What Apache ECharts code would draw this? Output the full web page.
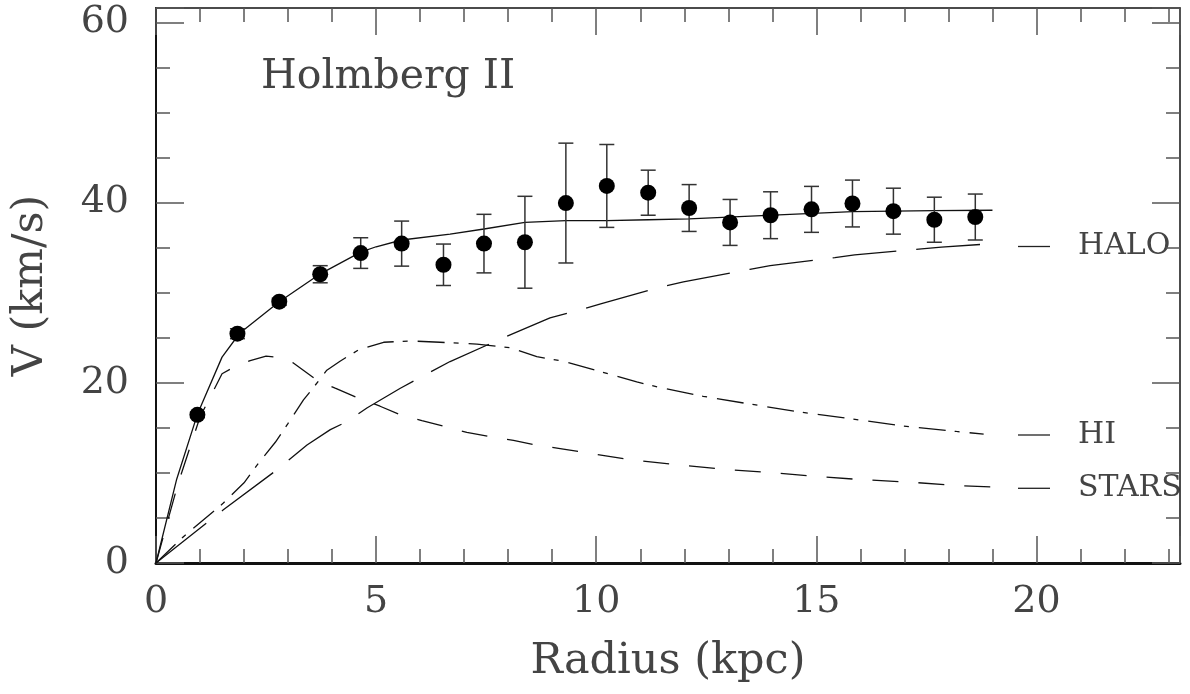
<!DOCTYPE html>
<html><head><meta charset="utf-8">
<script src="https://cdn.jsdelivr.net/npm/echarts@6/dist/echarts.min.js"></script>
<style>html,body{margin:0;padding:0;background:#fff}#c{width:1190px;height:694px}</style>
</head><body><div id="c"></div>
<script>
// ---- axis ranges / ticks ----
const X_MIN = 0, X_MAX = 23.26, X_MAJOR = 5, X_MINOR = 1;
const Y_MIN = 0, Y_MAX = 61.6, Y_MAJOR = 20, Y_MINOR = 5;

// ---- observed rotation curve (kpc, km/s, error) ----
const RADIUS = [0.94, 1.85, 2.80, 3.73, 4.65, 5.58, 6.53, 7.45, 8.38, 9.31, 10.24, 11.18, 12.11, 13.04, 13.96, 14.89, 15.82, 16.75, 17.68, 18.61];
const VEL    = [16.45, 25.45, 29.0, 32.05, 34.4, 35.45, 33.1, 35.45, 35.6, 39.95, 41.85, 41.1, 39.4, 37.8, 38.6, 39.25, 39.9, 39.05, 38.1, 38.4];
const ERR    = [0.3, 0.55, 0.4, 0.95, 1.7, 2.5, 2.3, 3.25, 5.1, 6.65, 4.6, 2.5, 2.6, 2.55, 2.6, 2.55, 2.6, 2.55, 2.5, 2.55];

// ---- model curves ----
const TOTAL_R = [0, 0.47, 0.94, 1.5, 1.9, 2.8, 3.7, 4.65, 5.0, 5.58, 6.68, 7.45, 8.38, 9.31, 10.24, 11.18, 12.11, 13.5, 15.82, 17.68, 19.0];
const TOTAL_V = [0, 9.3, 16.5, 22.85, 25.5, 29.0, 32.0, 34.5, 35.1, 35.85, 36.5, 37.07, 37.8, 38.0, 38.0, 38.1, 38.2, 38.5, 39.0, 39.1, 39.15];

const HALO_R = [0, 1.53, 2.75, 3.43, 3.96, 4.34, 4.79, 5.55, 6.04, 6.68, 7.82, 8.23, 8.95, 9.63, 10.12, 11.52, 11.98, 13.49, 13.95, 15.42, 15.87, 17.39, 17.84, 19.0];
const HALO_V = [0, 5.9, 10.35, 13.1, 14.8, 15.7, 17.2, 19.4, 20.7, 22.36, 24.84, 25.7, 27.2, 28.1, 28.8, 30.7, 31.2, 32.6, 33.0, 33.9, 34.2, 34.86, 35.05, 35.45];

const HI_R = [0, 0.63, 1.53, 2.0, 2.33, 2.71, 3.0, 3.35, 3.58, 3.88, 4.18, 4.6, 5.17, 5.77, 6.45, 7.29, 8.04, 8.65, 9.25, 10.09, 10.92, 11.52, 12.43, 13.42, 14.63, 15.84, 16.97, 18.18, 18.8];
const HI_V = [0, 2.95, 6.65, 8.9, 11.1, 13.4, 15.5, 18.1, 19.5, 21.4, 22.4, 23.65, 24.5, 24.65, 24.5, 24.3, 23.9, 22.9, 22.4, 21.25, 20.1, 19.4, 18.5, 17.7, 16.75, 15.97, 15.2, 14.6, 14.3];

const STARS_R = [0, 0.5, 1.0, 1.5, 1.72, 2.14, 2.5, 2.71, 3.12, 3.65, 4.07, 4.6, 5.09, 5.58, 6.04, 6.6, 7.06, 7.66, 8.12, 8.69, 9.18, 10.77, 11.83, 12.89, 13.95, 15.0, 16.06, 17.12, 18.18, 19.0];
const STARS_V = [0, 8.8, 16.2, 21.0, 21.6, 22.47, 22.95, 22.85, 22.2, 20.3, 19.4, 18.3, 17.4, 16.4, 15.8, 15.1, 14.5, 13.97, 13.6, 13.04, 12.7, 11.46, 10.9, 10.4, 10.05, 9.6, 9.24, 8.98, 8.6, 8.43];

const TITLE = 'Holmberg II';
const X_NAME = 'Radius (kpc)';
const Y_NAME = 'V (km/s)';
const CURVE_LABELS = ['HALO', 'HI', 'STARS'];

const FONT = 'DejaVu Serif';
const INK = '#444';
const TICK = '#555';

const zip = (a, b) => a.map((v, i) => [v, b[i]]);
const isMult = (v, m) => Math.abs(v / m - Math.round(v / m)) < 1e-6;

function xAx(pos, interval, len, withLine, lineW, withLabel) {
  return {
    type: 'value', position: pos, min: X_MIN, max: X_MAX, interval: interval,
    splitLine: { show: false },
    axisLine: { show: withLine, onZero: false, lineStyle: { color: '#111', width: lineW } },
    axisTick: { show: true, inside: true, length: len, lineStyle: { color: TICK, width: 1.5 } },
    axisLabel: withLabel ? {
      show: true, margin: 20, fontFamily: FONT, fontSize: 38, color: INK,
      formatter: v => isMult(v, X_MAJOR) ? String(v) : ''
    } : { show: false }
  };
}
function yAx(pos, interval, len, withLine, lineW, withLabel) {
  return {
    type: 'value', position: pos, min: Y_MIN, max: Y_MAX, interval: interval,
    splitLine: { show: false },
    axisLine: { show: withLine, onZero: false, lineStyle: { color: '#111', width: lineW } },
    axisTick: { show: true, inside: true, length: len, lineStyle: { color: TICK, width: 1.5 } },
    axisLabel: withLabel ? {
      show: true, margin: 27, fontFamily: FONT, fontSize: 38, color: INK,
      formatter: v => isMult(v, Y_MAJOR) ? String(v) : ''
    } : { show: false }
  };
}

const xMain = xAx('bottom', X_MAJOR, 27, true, 3, true);
xMain.name = X_NAME; xMain.nameLocation = 'middle'; xMain.nameGap = 77;
xMain.nameTextStyle = { fontFamily: FONT, fontSize: 43, color: INK };
const yMain = yAx('left', Y_MAJOR, 28, true, 2, true);
yMain.name = Y_NAME; yMain.nameLocation = 'middle'; yMain.nameGap = 104;
yMain.nameTextStyle = { fontFamily: FONT, fontSize: 43, color: INK };

const chart = echarts.init(document.getElementById('c'), null, { renderer: 'canvas' });

const lineSeries = (name, r, v, type) => ({
  name: name, type: 'line', xAxisIndex: 0, yAxisIndex: 0,
  data: zip(r, v), showSymbol: false, symbol: 'none', smooth: false,
  lineStyle: { color: '#111', width: 1.3, type: type }, z: 3, silent: true
});

const option = {
  animation: false,
  backgroundColor: '#fff',
  grid: { left: 156, right: 10, top: 8, bottom: 131, containLabel: false },
  xAxis: [
    xMain,
    xAx('bottom', X_MINOR, 14, false, 1, false),
    xAx('top', X_MAJOR, 27, true, 1.5, false),
    xAx('top', X_MINOR, 14, false, 1, false)
  ],
  yAxis: [
    yMain,
    yAx('left', Y_MINOR, 14, false, 1, false),
    yAx('right', Y_MAJOR, 28, true, 1.5, false),
    yAx('right', Y_MINOR, 14, false, 1, false)
  ],
  series: [
    lineSeries('Total', TOTAL_R, TOTAL_V, 'solid'),
    lineSeries('HALO', HALO_R, HALO_V, [64, 20]),
    lineSeries('HI', HI_R, HI_V, [27, 9, 5, 10]),
    lineSeries('STARS', STARS_R, STARS_V, [26, 20]),
    {
      name: 'err', type: 'custom', xAxisIndex: 0, yAxisIndex: 0, z: 4, silent: true,
      data: RADIUS.map((r, i) => [r, VEL[i], ERR[i]]),
      encode: { x: 0, y: 1 },
      renderItem: function (params, api) {
        const x = api.value(0), y = api.value(1), e = api.value(2);
        const t = api.coord([x, y + e]), b = api.coord([x, y - e]);
        const hw = 7.5;
        const st = { stroke: '#333', lineWidth: 1.5 };
        return {
          type: 'group', children: [
            { type: 'line', shape: { x1: t[0], y1: t[1], x2: b[0], y2: b[1] }, style: st },
            { type: 'line', shape: { x1: t[0] - hw, y1: t[1], x2: t[0] + hw, y2: t[1] }, style: st },
            { type: 'line', shape: { x1: b[0] - hw, y1: b[1], x2: b[0] + hw, y2: b[1] }, style: st }
          ]
        };
      }
    },
    {
      name: 'data', type: 'scatter', xAxisIndex: 0, yAxisIndex: 0, z: 5, silent: true,
      data: zip(RADIUS, VEL), symbol: 'circle', symbolSize: 16,
      itemStyle: { color: '#000', opacity: 1 }
    }
  ],
  graphic: [
    { type: 'text', left: 261, top: 57, silent: true,
      style: { text: TITLE, font: '41px "DejaVu Serif"', fill: INK } },
    { type: 'line', silent: true, shape: { x1: 1018, y1: 246.5, x2: 1050, y2: 246.5 }, style: { stroke: '#222', lineWidth: 1.3 } },
    { type: 'line', silent: true, shape: { x1: 1018, y1: 435, x2: 1050, y2: 435 }, style: { stroke: '#222', lineWidth: 1.3 } },
    { type: 'line', silent: true, shape: { x1: 1018, y1: 488.3, x2: 1050, y2: 488.3 }, style: { stroke: '#222', lineWidth: 1.3 } },
    { type: 'text', left: 1078, top: 231, silent: true,
      style: { text: CURVE_LABELS[0], font: '30px "DejaVu Serif"', fill: INK } },
    { type: 'text', left: 1078, top: 420, silent: true,
      style: { text: CURVE_LABELS[1], font: '30px "DejaVu Serif"', fill: INK } },
    { type: 'text', left: 1078, top: 473, silent: true,
      style: { text: CURVE_LABELS[2], font: '30px "DejaVu Serif"', fill: INK } }
  ]
};
chart.setOption(option);
</script>
</body></html>
